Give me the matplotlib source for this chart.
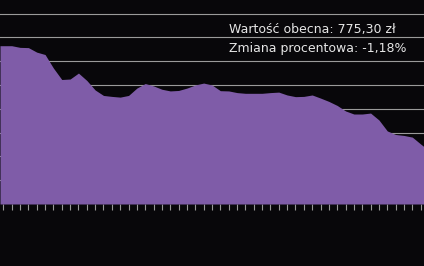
import numpy as np
from matplotlib import pyplot as plt

# portfolio value per day
days = np.arange(51)
values = [665, 665, 658, 657, 638, 628, 571, 523, 525, 550,
          519, 479, 456, 452, 449, 456, 487, 506, 496, 482,
          475, 477, 487, 500, 508, 500, 476, 475, 468, 465,
          465, 465, 468, 470, 458, 451, 452, 458, 445, 431,
          414, 391, 378, 378, 382, 353, 307, 292, 288, 281,
          252]
start_value = 665
end_value = 241
grid_values = [100, 200, 300, 400, 500, 600, 700, 800]

label_value = "Wartość obecna: 775,30 zł"
label_change = "Zmiana procentowa: -1,18%"

bg = '#08070a'
fill_col = '#7f5ca8'
grid_col = '#9a9a9a'

fig = plt.figure(figsize=(4.24, 2.66), dpi=100, facecolor=bg)
ax = fig.add_axes([0, 62 / 266, 1, 204 / 266])
ax.set_facecolor(bg)

x_lo, x_hi = -0.4, 50.4
xs = np.r_[x_lo, days, x_hi]
ys = np.r_[start_value, values, end_value]
ax.fill_between(xs, ys, 0, color=fill_col, linewidth=0, zorder=2)

for g in grid_values:
    ax.axhline(g, color=grid_col, linewidth=0.8, zorder=1)

ax.set_xlim(x_lo, x_hi)
ax.set_ylim(0, 857)
ax.set_xticks(days)
ax.set_xticklabels([])
ax.set_yticks([])
ax.tick_params(axis='x', direction='out', length=4.5, width=0.8, color=grid_col)
for s in ax.spines.values():
    s.set_visible(False)

fig.text(229 / 424, 1 - 33 / 266, label_value, color='#e6e6e6', fontsize=9,
         ha='left', va='baseline')
fig.text(229 / 424, 1 - 52 / 266, label_change, color='#e6e6e6', fontsize=9,
         ha='left', va='baseline')

fig.savefig('out.png', dpi=100, facecolor=bg)
